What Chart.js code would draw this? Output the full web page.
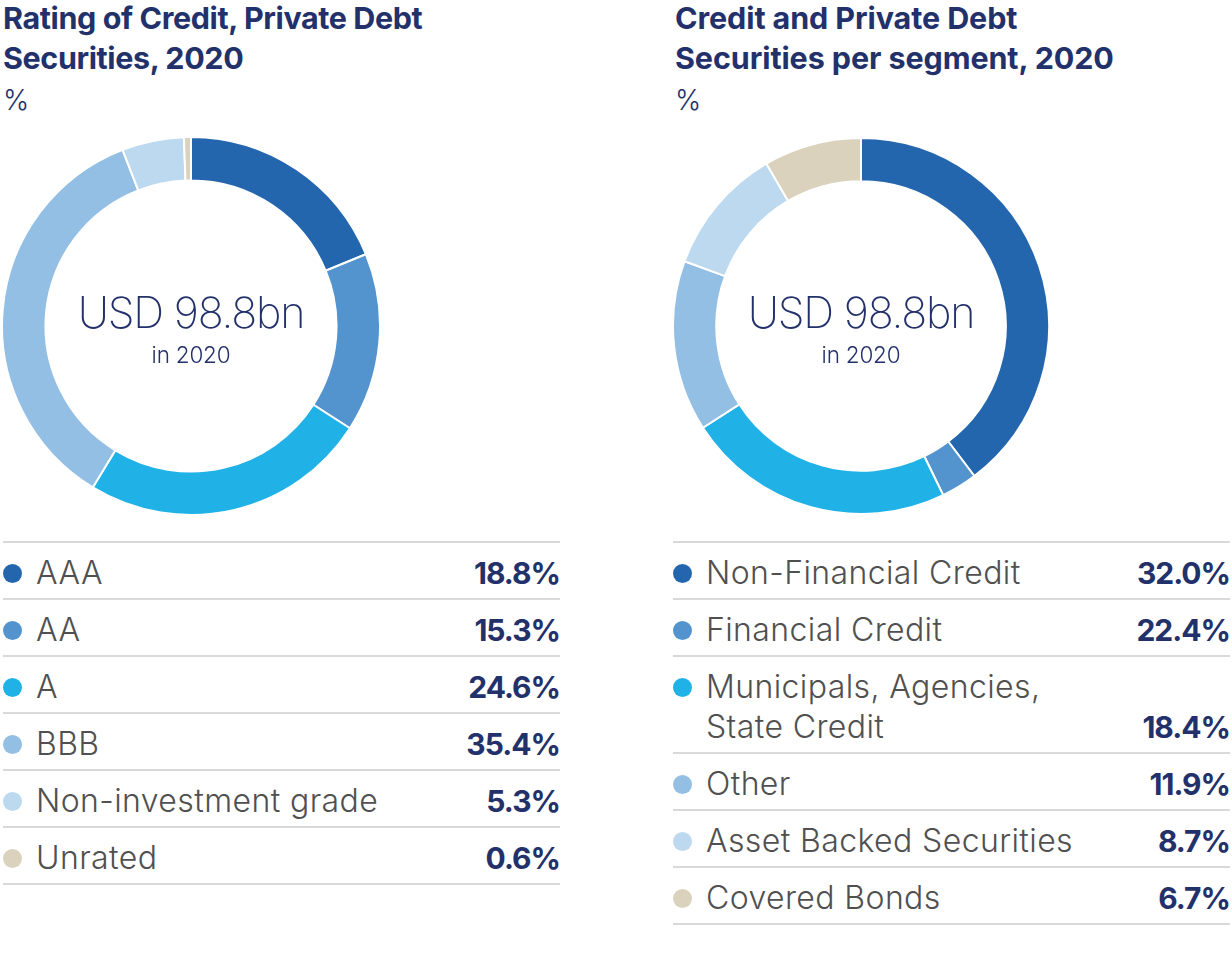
<!DOCTYPE html>
<html>
<head>
<meta charset="utf-8">
<script src="https://cdn.jsdelivr.net/npm/chart.js@4/dist/chart.umd.min.js"></script>
<style>
  body { margin: 0; background: #fff; font-family: Inter, "Noto Sans", sans-serif; }
  #page { position: relative; width: 1232px; height: 971px; overflow: hidden; }
  .title { position: absolute; top: -2px; color: #23316b; font-weight: 700; font-size: 30.5px;
           line-height: 40px; letter-spacing: -0.4px; }
  .unit  { font-weight: 300; font-size: 28px; line-height: 44px; }
  canvas { position: absolute; }
  .center { position: absolute; width: 300px; text-align: center; color: #23316b; }
  .big   { font-size: 43px; font-weight: 200; letter-spacing: -1.2px; line-height: 50px; }
  .small { font-size: 22.5px; font-weight: 300; letter-spacing: -0.2px; line-height: 36px; }
  .legend { position: absolute; top: 541px; width: 557px; border-bottom: 2px solid #d9d9d9; }
  .row { display: flex; align-items: flex-end; justify-content: space-between;
         border-top: 2px solid #d9d9d9; padding: 10px 0 5px; }
  .lab { position: relative; padding-left: 33px; color: #505050; font-size: 32px; font-weight: 300;
         line-height: 40px; letter-spacing: 0.4px; }
  .dot { position: absolute; left: 0; top: 11px; width: 19px; height: 19px; border-radius: 50%; }
  .val { color: #23316b; font-size: 30px; font-weight: 700; line-height: 40px; letter-spacing: -1px; }
</style>
</head>
<body>
<div id="page">
  <div class="title" style="left:3px">Rating of Credit, Private Debt<br>Securities, 2020<br><span class="unit">%</span></div>
  <div class="title" style="left:675px; letter-spacing:-0.1px">Credit and Private Debt<br>Securities per segment, 2020<br><span class="unit">%</span></div>

  <canvas id="ratingChart" width="380" height="380" style="left:1px; top:136px"></canvas>
  <canvas id="segmentChart" width="378" height="378" style="left:672px; top:137px"></canvas>

  <div class="center" style="left:41px; top:287px"><div class="big">USD 98.8bn</div><div class="small">in 2020</div></div>
  <div class="center" style="left:711px; top:287px"><div class="big">USD 98.8bn</div><div class="small">in 2020</div></div>

  <div class="legend" id="legend-rating" style="left:3px"></div>
  <div class="legend" id="legend-segment" style="left:673px"></div>
</div>

<script>
// Rating chart
const ratingLabels = ['AAA', 'AA', 'A', 'BBB', 'Non-investment grade', 'Unrated'];
const ratingValues = [18.8, 15.3, 24.6, 35.4, 5.3, 0.6];
const ratingColors = ['#2366ae', '#5394cf', '#20b1e6', '#92bfe3', '#bdd9ef', '#dad2bd'];

// Segment chart (legend figures, and ring shares as drawn in the picture)
const segmentLabels = ['Non-Financial Credit', 'Financial Credit', 'Municipals, Agencies,<br>State Credit',
                       'Other', 'Asset Backed Securities', 'Covered Bonds'];
const segmentValues = [32.0, 22.4, 18.4, 11.9, 8.7, 6.7];
const segmentRing   = [39.7, 3.1, 23.1, 14.7, 11.0, 8.4];
const segmentColors = ['#2366ae', '#5394cf', '#20b1e6', '#92bfe3', '#bdd9ef', '#dad2bd'];

// Helper: build the table legend under a donut
function makeLegend(id, labels, values, colors) {
  document.getElementById(id).innerHTML = labels.map((l, i) => `
    <div class="row">
      <div class="lab"><span class="dot" style="background:${colors[i]}"></span>${l}</div>
      <div class="val">${values[i].toFixed(1)}%</div>
    </div>`).join('');
}

function buildDonut(id, labels, data, colors) {
  return new Chart(document.getElementById(id), {
    type: 'doughnut',
    data: {
      labels: labels,
      datasets: [{ data: data, backgroundColor: colors, borderColor: '#ffffff', borderWidth: 2 }]
    },
    options: {
      responsive: false,
      animation: false,
      cutout: '77%',
      layout: { padding: 0 },
      plugins: { legend: { display: false }, tooltip: { enabled: false } }
    }
  });
}

buildDonut('ratingChart', ratingLabels, ratingValues, ratingColors);
buildDonut('segmentChart', segmentLabels, segmentRing, segmentColors);
makeLegend('legend-rating', ratingLabels, ratingValues, ratingColors);
makeLegend('legend-segment', segmentLabels, segmentValues, segmentColors);
</script>
</body>
</html>
